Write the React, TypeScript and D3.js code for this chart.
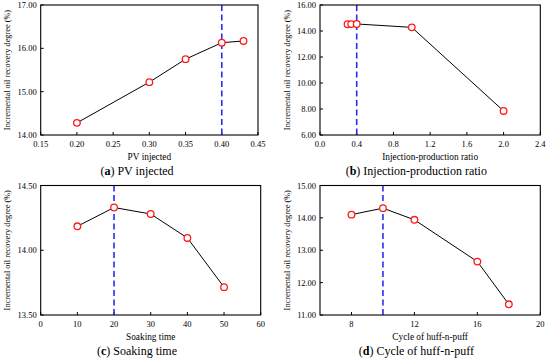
import * as d3 from "d3";

// (a) PV injected
const pvX = [0.2, 0.3, 0.35, 0.4, 0.43];
const pvY = [14.28, 15.22, 15.75, 16.13, 16.17];
const pvTicksX = [0.15, 0.2, 0.25, 0.3, 0.35, 0.4, 0.45];
const pvTicksY = [14, 15, 16, 17];

// (b) Injection-production ratio
const ratioX = [0.3, 0.34, 0.4, 1.0, 2.0];
const ratioY = [14.52, 14.53, 14.54, 14.28, 7.85];
const ratioTicksX = [0, 0.4, 0.8, 1.2, 1.6, 2.0, 2.4];
const ratioTicksY = [6, 8, 10, 12, 14, 16];

// (c) Soaking time
const soakX = [10, 20, 30, 40, 50];
const soakY = [14.185, 14.33, 14.28, 14.095, 13.715];
const soakTicksX = [0, 10, 20, 30, 40, 50, 60];
const soakTicksY = [13.5, 14, 14.5];

// (d) Cycle of huff-n-puff
const cycleX = [8, 10, 12, 16, 18];
const cycleY = [14.1, 14.3, 13.94, 12.65, 11.33];
const cycleTicksX = [8, 12, 16, 20];
const cycleTicksY = [11, 12, 13, 14, 15];

const yTitle = "Incremental oil recovery degree (%)";

type PanelProps = {
  xs: number[];
  ys: number[];
  xDomain: [number, number];
  yDomain: [number, number];
  xTicks: number[];
  yTicks: number[];
  xFmt: (v: number) => string;
  optimum: number;
  xTitle: string;
  letter: string;
  caption: string;
  box: { l: number; r: number; t: number; b: number };
  titleX: number;
};

const Panel = (p: PanelProps) => {
  const { l, r, t, b } = p.box;
  const x = d3.scaleLinear().domain(p.xDomain).range([l, r]);
  const y = d3.scaleLinear().domain(p.yDomain).range([b, t]);
  const line = d3.line<number>()
    .x((_, i) => x(p.xs[i]))
    .y((d) => y(d));
  const cx = (l + r) / 2;
  const panelCx = l - 40.7 + 137;
  return (
    <g>
      {/* y axis title */}
      <text
        transform={`translate(${p.titleX},${(t + b) / 2}) rotate(-90)`}
        textAnchor="middle"
        dominantBaseline="middle"
        fontSize={8.3}
      >
        {yTitle}
      </text>
      {/* ticks */}
      {p.xTicks.map((v) => (
        <g key={"x" + v}>
          <line x1={x(v)} x2={x(v)} y1={b} y2={b - 3} stroke="#000" />
          <text x={x(v)} y={b + 12} textAnchor="middle" fontSize={8.5}>
            {p.xFmt(v)}
          </text>
        </g>
      ))}
      {p.yTicks.map((v) => (
        <g key={"y" + v}>
          <line x1={l} x2={l + 3} y1={y(v)} y2={y(v)} stroke="#000" />
          <text x={l - 4} y={y(v) + 3} textAnchor="end" fontSize={8.5}>
            {v.toFixed(2)}
          </text>
        </g>
      ))}
      {/* optimum marker */}
      <line
        x1={x(p.optimum)}
        x2={x(p.optimum)}
        y1={t}
        y2={b}
        stroke="#2b2bf5"
        strokeWidth={1.6}
        strokeDasharray="6,3.5"
      />
      <path d={line(p.ys) || ""} fill="none" stroke="#000" strokeWidth={1} />
      {p.ys.map((v, i) => (
        <circle
          key={i}
          cx={x(p.xs[i])}
          cy={y(v)}
          r={3.3}
          fill="#fff"
          stroke="#ff1a1a"
          strokeWidth={1.3}
        />
      ))}
      <rect x={l} y={t} width={r - l} height={b - t} fill="none" stroke="#000" strokeWidth={1.1} />
      <text x={cx} y={b + 25} textAnchor="middle" fontSize={9.3}>
        {p.xTitle}
      </text>
      <text x={panelCx} y={b + 40} textAnchor="middle" fontSize={12}>
        (<tspan fontWeight="bold">{p.letter}</tspan>) {p.caption}
      </text>
    </g>
  );
};

const f2 = (v: number) => v.toFixed(2);
const f1 = (v: number) => v.toFixed(1);
const f0 = (v: number) => v.toFixed(0);

export default function App() {
  return (
    <svg
      width={550}
      height={362}
      style={{ position: "absolute", left: 0, top: 0, background: "#fff" }}
      fontFamily="'Liberation Serif', 'Times New Roman', serif"
    >
      <Panel
        xs={pvX}
        ys={pvY}
        xDomain={[0.15, 0.45]}
        yDomain={[14, 17]}
        xTicks={pvTicksX}
        yTicks={pvTicksY}
        xFmt={f2}
        optimum={0.4}
        xTitle="PV injected"
        letter="a"
        caption="PV injected"
        box={{ l: 40.7, r: 258, t: 5, b: 135 }}
        titleX={8.5}
      />
      <Panel
        xs={ratioX}
        ys={ratioY}
        xDomain={[0, 2.4]}
        yDomain={[6, 16]}
        xTicks={ratioTicksX}
        yTicks={ratioTicksY}
        xFmt={f1}
        optimum={0.4}
        xTitle="Injection-production ratio"
        letter="b"
        caption="Injection-production ratio"
        box={{ l: 320, r: 540.3, t: 5, b: 135 }}
        titleX={288.5}
      />
      <Panel
        xs={soakX}
        ys={soakY}
        xDomain={[0, 60]}
        yDomain={[13.5, 14.5]}
        xTicks={soakTicksX}
        yTicks={soakTicksY}
        xFmt={f0}
        optimum={20}
        xTitle="Soaking time"
        letter="c"
        caption="Soaking time"
        box={{ l: 40.7, r: 260.7, t: 185.5, b: 315 }}
        titleX={8.5}
      />
      <Panel
        xs={cycleX}
        ys={cycleY}
        xDomain={[6, 20]}
        yDomain={[11, 15]}
        xTicks={cycleTicksX}
        yTicks={cycleTicksY}
        xFmt={f0}
        optimum={10}
        xTitle="Cycle of huff-n-puff"
        letter="d"
        caption="Cycle of huff-n-puff"
        box={{ l: 320, r: 540.3, t: 185.5, b: 315 }}
        titleX={288.5}
      />
    </svg>
  );
}
